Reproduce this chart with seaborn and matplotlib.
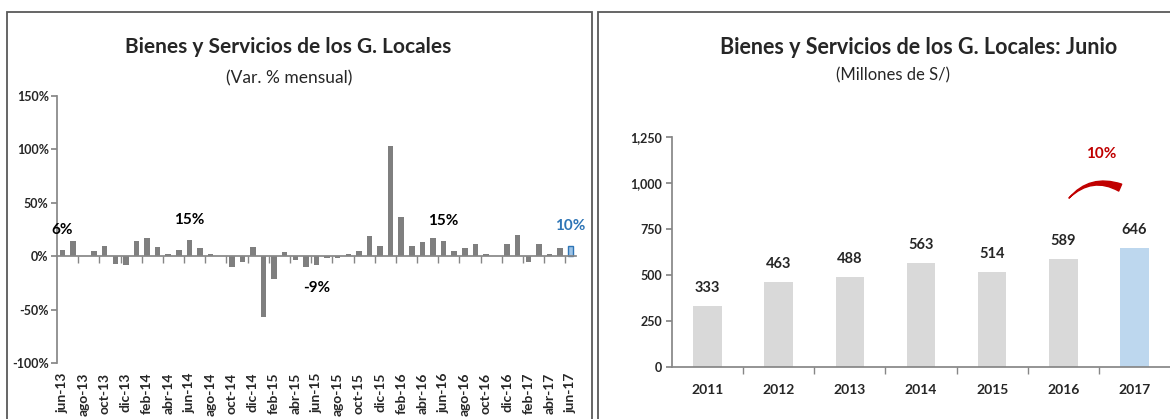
import numpy as np
import pandas as pd
import matplotlib
matplotlib.use("Agg")
import matplotlib.pyplot as plt
import seaborn as sns
from matplotlib.patches import Rectangle
from matplotlib.ticker import FixedLocator, FuncFormatter

# ---- datos: panel izquierdo (var. % mensual) ----
meses = ["ene", "feb", "mar", "abr", "may", "jun",
         "jul", "ago", "sep", "oct", "nov", "dic"]
periodos = [f"{m}-{a}" for a in range(13, 18) for m in meses][5:54]  # jun-13 .. jun-17
var_mensual = [6, 14.5, 0.5, 4.5, 10, -7.5, -8, 14.5, 17, 9, 2, 6,
               15.4, 7.5, 2, 0.5, -10.5, -5, 9, -56.5, -21.5, 3.5, -4, -10.5,
               -8.6, -2, -2, 2, 4.5, 18.5, 10, 103, 36.5, 10, 13, 17,
               14.6, 4.5, 7.5, 11.5, 2, 0.5, 11.5, 20, -5, 11.5, 2, 7.5,
               10]
etiquetas_junio = ["jun-13", "jun-14", "jun-15", "jun-16", "jun-17"]

# ---- datos: panel derecho (millones de S/) ----
anios = ["2011", "2012", "2013", "2014", "2015", "2016", "2017"]
montos = [333, 463, 488, 563, 514, 589, 646]
crecimiento = "10%"

sns.set_theme(style="white")
plt.rcParams["font.family"] = ["Lato", "DejaVu Sans"]

W, H = 1170, 419
fig = plt.figure(figsize=(W / 100, H / 100), dpi=100)

GRIS_EJE = "#868686"

# ================= panel izquierdo =================
ax1 = fig.add_axes([57 / W, 1 - 363 / H, (576 - 57) / W, (363 - 96) / H])
df1 = pd.DataFrame({"periodo": periodos, "var": var_mensual})
colores1 = ["#7F7F7F"] * (len(periodos) - 1) + ["#9DC3E6"]
sns.barplot(data=df1, x="periodo", y="var", hue="periodo", palette=colores1,
            legend=False, width=0.52, saturation=1, linewidth=0, ax=ax1)
ax1.patches[-1].set_edgecolor("#2E75B6")
ax1.patches[-1].set_linewidth(1)

ax1.set_xlim(-0.5, len(periodos) - 0.5)
ax1.set_ylim(-100, 150)
ax1.set_yticks(np.arange(-100, 151, 50))
ax1.yaxis.set_major_formatter(FuncFormatter(lambda v, p: f"{v:.0f}%"))
ax1.set_xlabel("")
ax1.set_ylabel("")
for s in ["top", "right"]:
    ax1.spines[s].set_visible(False)
ax1.spines["left"].set_color(GRIS_EJE)
ax1.spines["bottom"].set_color(GRIS_EJE)
ax1.spines["bottom"].set_position(("data", 0))
ax1.tick_params(axis="y", direction="out", length=4, color=GRIS_EJE,
                labelsize=9, pad=2, left=True)
for t in ax1.get_yticklabels():
    t.set_fontweight("bold")
ax1.set_xticks(np.arange(0, len(periodos), 2))
ax1.tick_params(axis="x", which="major", length=0, labelbottom=False)
ax1.xaxis.set_minor_locator(FixedLocator(np.arange(1.5, len(periodos) - 1, 2)))
ax1.tick_params(axis="x", which="minor", direction="out", length=5,
                color=GRIS_EJE, bottom=True)

sec = ax1.secondary_xaxis(0.0)
sec.set_xticks(np.arange(0, len(periodos), 2), labels=periodos[::2])
sec.tick_params(length=0, pad=7, labelsize=10, labelrotation=90)
for s in sec.spines.values():
    s.set_visible(False)
for t in sec.get_xticklabels():
    t.set_fontweight("bold")

for lab in etiquetas_junio:
    i = periodos.index(lab)
    v = var_mensual[i]
    off = 14 if v >= 0 else -16
    col = "#2E75B6" if lab == etiquetas_junio[-1] else "black"
    ax1.annotate(f"{v:.0f}%", xy=(i, v), xytext=(0, off), textcoords="offset points",
                 ha="center", va="center", fontsize=11, fontweight="bold", color=col)

fig.text(288 / W, 1 - 47 / H, "Bienes y Servicios de los G. Locales",
         ha="center", va="center", fontsize=15, fontweight="bold")
fig.text(289 / W, 1 - 78 / H, "(Var. % mensual)", ha="center", va="center", fontsize=12.5)

# ================= panel derecho =================
ax2 = fig.add_axes([672 / W, 1 - 367 / H, (W - 672) / W, (367 - 137) / H])
df2 = pd.DataFrame({"anio": anios, "monto": montos})
colores2 = ["#D9D9D9"] * (len(anios) - 1) + ["#BDD7EE"]
sns.barplot(data=df2, x="anio", y="monto", hue="anio", palette=colores2,
            legend=False, width=0.4, saturation=1, linewidth=0, ax=ax2)
for c in ax2.containers:
    ax2.bar_label(c, fmt="{:,.0f}", padding=8, fontsize=10.5, fontweight="bold")

ax2.set_xlim(-0.5, len(anios) - 0.5)
ax2.set_ylim(0, 1250)
ax2.set_yticks(np.arange(0, 1251, 250))
ax2.yaxis.set_major_formatter(FuncFormatter(lambda v, p: f"{v:,.0f}"))
ax2.set_xlabel("")
ax2.set_ylabel("")
for s in ["top", "right"]:
    ax2.spines[s].set_visible(False)
ax2.spines["left"].set_color(GRIS_EJE)
ax2.spines["bottom"].set_color(GRIS_EJE)
ax2.tick_params(axis="y", direction="out", length=4, color=GRIS_EJE,
                labelsize=9, pad=3, left=True)
ax2.tick_params(axis="x", which="major", length=0, labelsize=10, pad=12)
ax2.xaxis.set_minor_locator(FixedLocator(np.arange(0.5, len(anios) - 1, 1)))
ax2.tick_params(axis="x", which="minor", direction="out", length=5,
                color=GRIS_EJE, bottom=True)
for t in ax2.get_yticklabels() + ax2.get_xticklabels():
    t.set_fontweight("bold")

# flecha roja de crecimiento 2016 -> 2017
ax2.annotate("", xy=(5.08, 918), xytext=(5.8, 975),
             arrowprops=dict(arrowstyle="wedge,tail_width=0.45,shrink_factor=0.4",
                             color="#C00000", shrinkA=0, shrinkB=0,
                             connectionstyle="arc3,rad=0.35"))
ax2.text(5.53, 1158, crecimiento, ha="center", va="center", fontsize=11,
         fontweight="bold", color="#C00000")

fig.text(919 / W, 1 - 47 / H, "Bienes y Servicios de los G. Locales: Junio",
         ha="center", va="center", fontsize=15.5, fontweight="bold")
fig.text(893 / W, 1 - 75 / H, "(Millones de S/)", ha="center", va="center", fontsize=12)

# marcos de los paneles
fig.add_artist(Rectangle((7 / W, -0.05), (592 - 7) / W, 1 - 12 / H + 0.05,
                         transform=fig.transFigure, fill=False,
                         edgecolor="#595959", lw=1.3, clip_on=False))
fig.add_artist(Rectangle((598 / W, -0.05), 0.6, 1 - 12 / H + 0.05,
                         transform=fig.transFigure, fill=False,
                         edgecolor="#595959", lw=1.3, clip_on=False))

fig.savefig("out.png", dpi=100)
